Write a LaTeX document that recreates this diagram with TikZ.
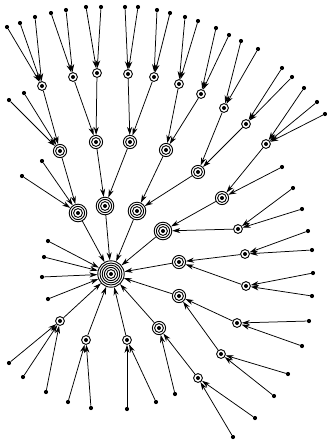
\documentclass[tikz,border=0pt]{standalone}
\usetikzlibrary{arrows.meta}
\begin{document}
\begin{tikzpicture}[x=1pt,y=-1pt,
  leaf/.style={circle,fill,inner sep=0pt,minimum size=4.2pt},
  r1/.style={circle,draw,line width=0.9pt,inner sep=0pt,minimum size=8.8pt,
    path picture={\fill (path picture bounding box.center) circle (2pt);}},
  r2/.style={circle,draw,line width=0.9pt,inner sep=0pt,minimum size=13.2pt,
    path picture={\draw[line width=0.9pt] (path picture bounding box.center) circle (4.4pt);
      \fill (path picture bounding box.center) circle (2pt);}},
  r3/.style={circle,draw,line width=0.9pt,inner sep=0pt,minimum size=17.6pt,
    path picture={\draw[line width=0.9pt] (path picture bounding box.center) circle (6.6pt);
      \draw[line width=0.9pt] (path picture bounding box.center) circle (4.4pt);
      \fill (path picture bounding box.center) circle (2pt);}},
  r4/.style={circle,draw,line width=0.9pt,inner sep=0pt,minimum size=26.4pt,
    path picture={\draw[line width=0.9pt] (path picture bounding box.center) circle (11pt);
      \draw[line width=0.9pt] (path picture bounding box.center) circle (8.8pt);
      \draw[line width=0.9pt] (path picture bounding box.center) circle (6.6pt);
      \draw[line width=0.9pt] (path picture bounding box.center) circle (4.4pt);
      \fill (path picture bounding box.center) circle (2pt);}},
  edge/.style={-{Stealth[length=8pt,width=5pt]},line width=0.75pt}]
\useasboundingbox (0,0) rectangle (327,440);
% internal nodes
\node[r4] (R) at (111,274) {};
\node[r3] (a1) at (78,213) {};
\node[r3] (b1) at (105,206) {};
\node[r3] (c1) at (137,211) {};
\node[r3] (d1) at (163,231) {};
\node[r2] (e1) at (179,262) {};
\node[r2] (f1) at (179,296) {};
\node[r2] (g1) at (159,328) {};
\node[r1] (h1) at (127,340) {};
\node[r1] (i1) at (86,340) {};
\node[r1] (j1) at (60,321) {};
\node[r2] (a2) at (60,151) {};
\node[r2] (b2) at (96,142) {};
\node[r2] (c2) at (130,142) {};
\node[r2] (d2) at (166,150) {};
\node[r2] (e2) at (198,172) {};
\node[r2] (f2) at (222,198) {};
\node[r1] (g2) at (238,229) {};
\node[r1] (e1a) at (245,254) {};
\node[r1] (e1b) at (246,286) {};
\node[r1] (f1a) at (237,323) {};
\node[r1] (f1b) at (221,354) {};
\node[r1] (g1a) at (198,378) {};
\node[r1] (A) at (42,86) {};
\node[r1] (B) at (73,77) {};
\node[r1] (C) at (97,73) {};
\node[r1] (D) at (128,74) {};
\node[r1] (E) at (154,77) {};
\node[r1] (F) at (179,84) {};
\node[r1] (G) at (201,94) {};
\node[r1] (H) at (224,108) {};
\node[r1] (I) at (246,124) {};
\node[r1] (J) at (266,144) {};
% edges between internal nodes
\foreach \c/\p in {a1/R,b1/R,c1/R,d1/R,e1/R,f1/R,g1/R,h1/R,i1/R,j1/R,
  a2/a1,b2/b1,c2/b1,d2/c1,e2/c1,f2/d1,g2/d1,e1a/e1,e1b/e1,f1a/f1,f1b/f1,g1a/g1,
  A/a2,B/b2,C/b2,D/c2,E/c2,F/d2,G/d2,H/e2,I/e2,J/f2}
  \draw[edge] (\c) -- (\p);
% leaves
\foreach \n/\x/\y/\p in {
  lR1/48/241/R, lR2/44/257/R, lR3/42/277/R, lR4/48/299/R,
  la1a/42/161/a1, la1b/22/176/a1,
  la2a/9/100/a2, la2b/24/93/a2,
  lAa/7/27/A, lAb/20/23/A, lAc/35/17/A,
  lBa/51/13/B, lBb/66/10/B,
  lCa/86/7/C, lCb/101/7/C,
  lDa/125/7/D, lDb/138/7/D,
  lEa/157/10/E, lEb/170/13/E,
  lFa/185/17/F, lFb/198/21/F,
  lGa/216/28/G, lGb/229/35/G,
  lHa/241/41/H, lHb/258/49/H,
  lIa/282/68/I, lIb/292/77/I,
  lJa/304/88/J, lJb/317/102/J, lJc/325/114/J,
  lf2/282/167/f2,
  lg2a/293/188/g2, lg2b/302/209/g2,
  le1aa/308/231/e1a, le1ab/312/250/e1a,
  le1ba/313/273/e1b, le1bb/312/296/e1b,
  lf1aa/309/321/f1a, lf1ab/302/346/f1a,
  lf1ba/288/374/f1b, lf1bb/274/396/f1b,
  lg1aa/255/418/g1a, lg1ab/233/437/g1a,
  lg1/175/394/g1,
  lh1a/127/409/h1, lh1b/156/402/h1,
  li1a/68/402/i1, li1b/91/408/i1,
  lj1a/9/363/j1, lj1b/23/377/j1, lj1c/46/392/j1}
{
  \node[leaf] (\n) at (\x,\y) {};
  \draw[edge] (\n) -- (\p);
}
\end{tikzpicture}
\end{document}
